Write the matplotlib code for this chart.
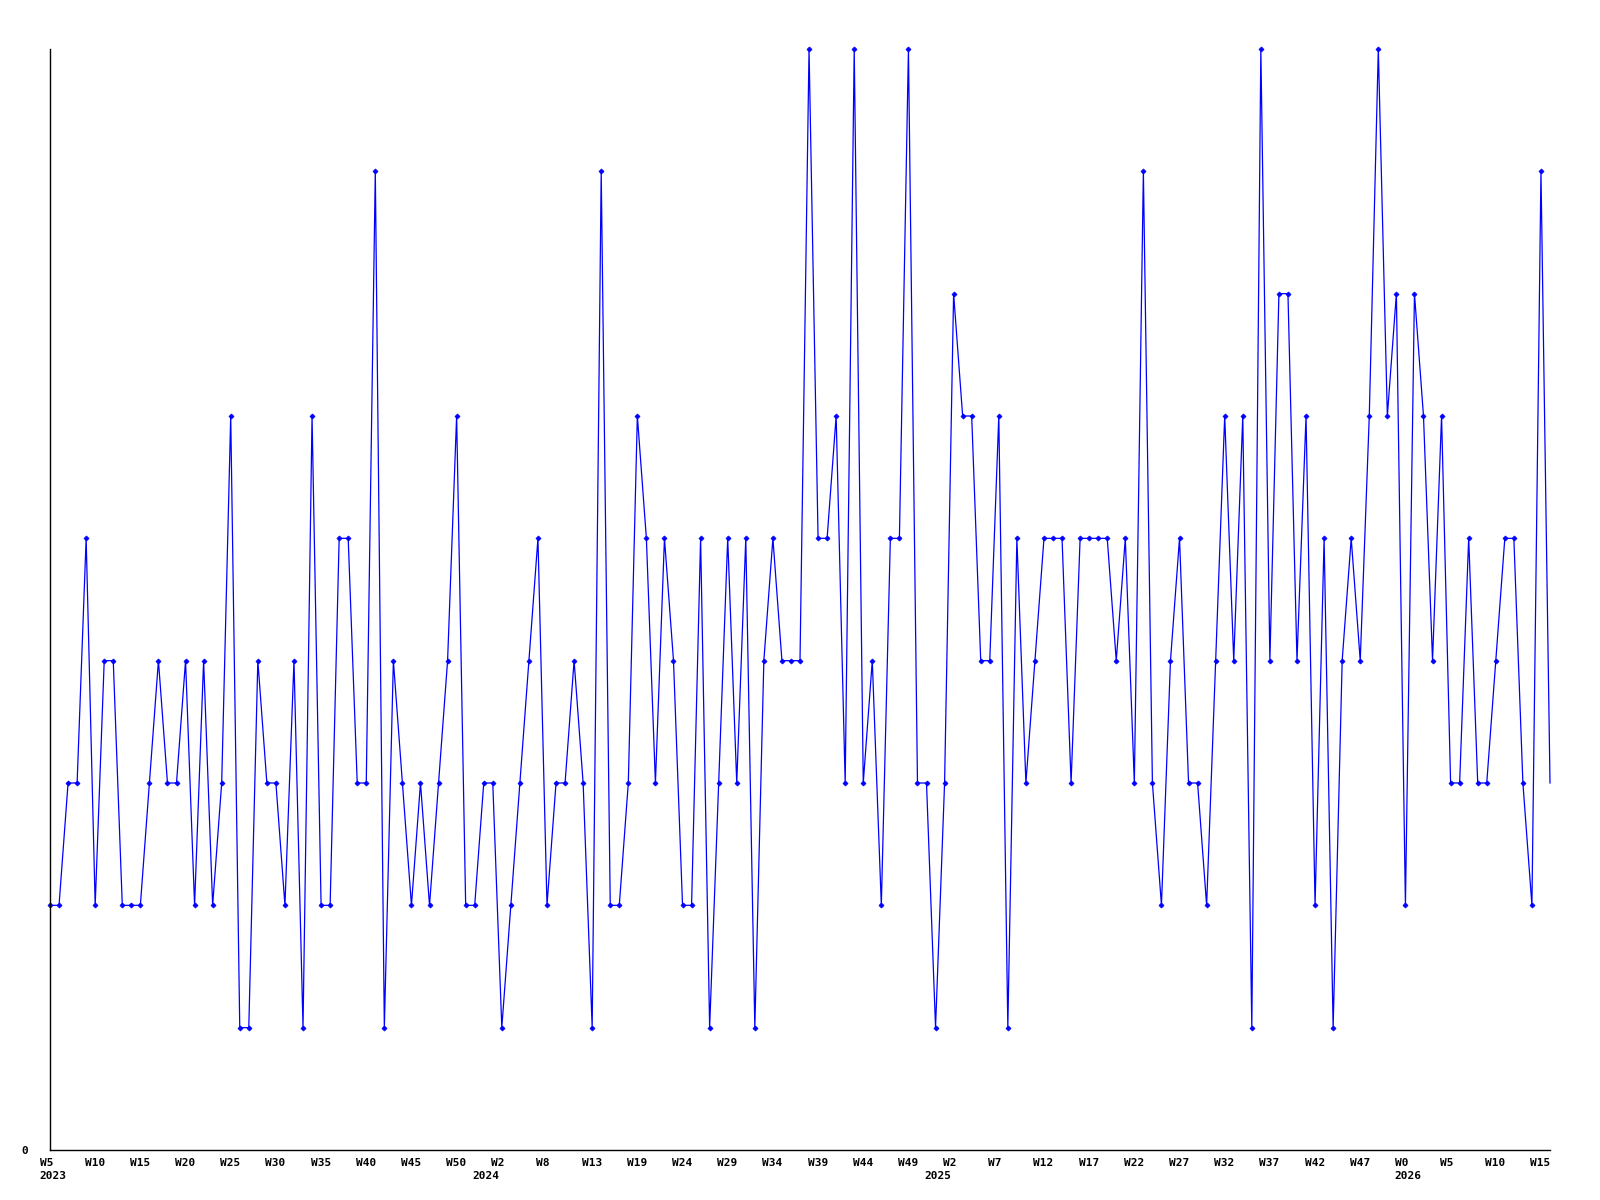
import matplotlib
matplotlib.use("Agg")
import matplotlib.pyplot as plt
from matplotlib.transforms import ScaledTranslation, blended_transform_factory

# weekly values, W5 2023 .. W15 2026
values = [2, 2, 3, 3, 5, 2, 4, 4, 2, 2, 2, 3, 4, 3, 3, 4, 2, 4, 2, 3, 6, 1, 1, 4,
          3, 3, 2, 4, 1, 6, 2, 2, 5, 5, 3, 3, 8, 1, 4, 3, 2, 3, 2, 3, 4, 6, 2, 2,
          3, 3, 1, 2, 3, 4, 5, 2, 3, 3, 4, 3, 1, 8, 2, 2, 3, 6, 5, 3, 5, 4, 2,
          2, 5, 1, 3, 5, 3, 5, 1, 4, 5, 4, 4, 4, 9, 5, 5, 6, 3, 9, 3, 4, 2, 5, 5,
          9, 3, 3, 1, 3, 7, 6, 6, 4, 4, 6, 1, 5, 3, 4, 5, 5, 5, 3, 5, 5, 5, 5, 4,
          5, 3, 8, 3, 2, 4, 5, 3, 3, 2, 4, 6, 4, 6, 1, 9, 4, 7, 7, 4, 6, 2, 5, 1,
          4, 5, 4, 6, 9, 6, 7, 2, 7, 6, 4, 6, 3, 3, 5, 3, 3, 4, 5, 5, 3, 2, 8, 3]

week_labels = ["W5", "W10", "W15", "W20", "W25", "W30", "W35", "W40", "W45", "W50",
               "W2", "W8", "W13", "W19", "W24", "W29", "W34", "W39", "W44", "W49",
               "W2", "W7", "W12", "W17", "W22", "W27", "W32", "W37", "W42", "W47",
               "W0", "W5", "W10", "W15"]
label_step = 5

# year labels sit roughly where each year begins
years = ["2023", "2024", "2025", "2026"]
year_pos = [0.3, 48.2, 98.3, 150.3]

fig = plt.figure(figsize=(16, 12), dpi=100)
ax = fig.add_axes([0.03125, 0.04167, 0.9375, 0.9175])

x = list(range(len(values)))
ax.plot(x, values, color="#0000ff", linewidth=0.9, marker="D", markersize=2.6,
        markeredgewidth=0.5, markevery=list(range(len(values) - 1)), clip_on=False)

ax.set_xlim(0, len(values) - 1)
ax.set_ylim(0, 9)

for side in ["top", "right"]:
    ax.spines[side].set_visible(False)
for side in ["left", "bottom"]:
    ax.spines[side].set_linewidth(1.0)
    ax.spines[side].set_color("black")

font = dict(fontfamily="DejaVu Sans Mono", fontweight="bold", fontsize=8)

ax.set_xticks([i * label_step for i in range(len(week_labels))])
ax.set_xticklabels(week_labels, ha="left", va="top", **font)
ax.tick_params(axis="x", length=0, pad=6)
shift = ScaledTranslation(-0.105, 0, fig.dpi_scale_trans)
for lab in ax.get_xticklabels():
    lab.set_transform(lab.get_transform() + shift)

trans = blended_transform_factory(ax.transData, ax.transAxes)
for yr, xp in zip(years, year_pos):
    ax.text(xp, -0.0235, yr, transform=trans, ha="center", va="center", **font)

ax.set_yticks([0])
ax.set_yticklabels(["0"], **font)
ax.tick_params(axis="y", length=0, pad=16)

fig.savefig("out.png", dpi=100)
